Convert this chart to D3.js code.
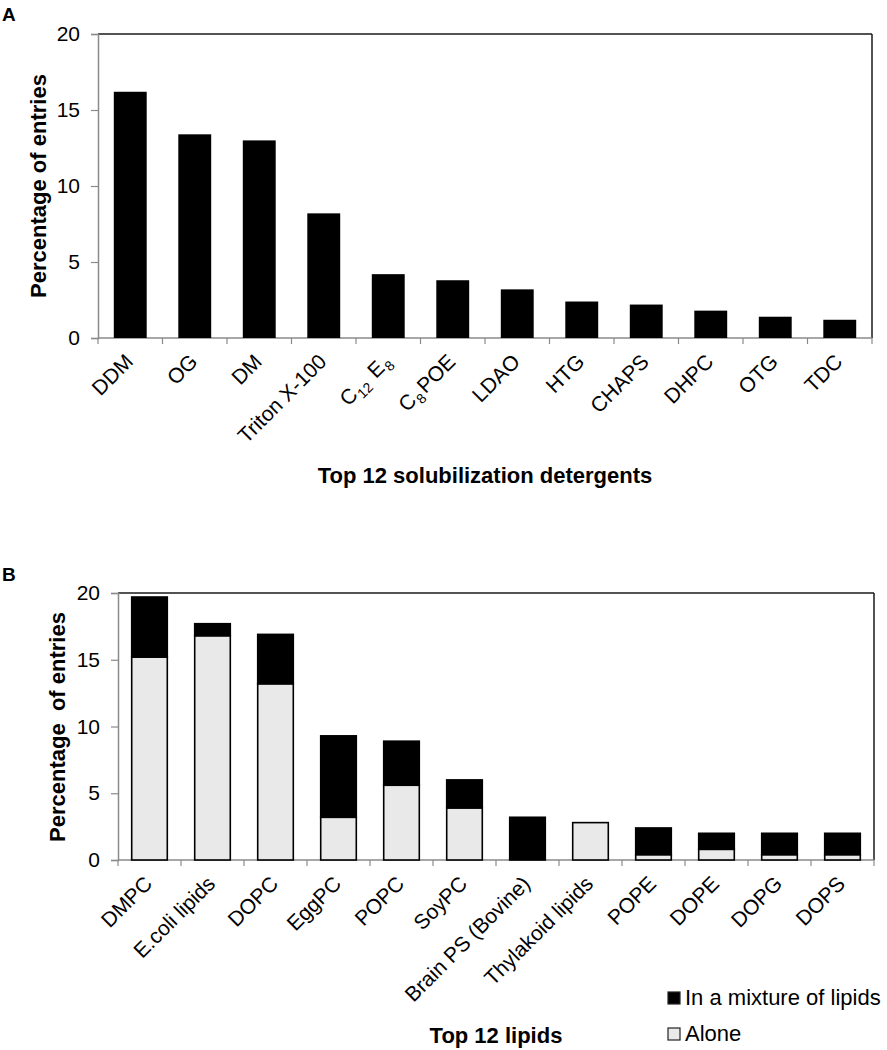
<!DOCTYPE html>
<html>
<head>
<meta charset="utf-8">
<script src="https://cdn.jsdelivr.net/npm/d3@7"></script>
<style>
  html, body { margin: 0; padding: 0; background: #fff; }
  svg { display: block; font-family: "Liberation Sans", Arial, sans-serif; }
</style>
</head>
<body>
<script>
// ---------- Data ----------
const detergents = ["DDM", "OG", "DM", "Triton X-100", "C_12 E_8", "C_8POE", "LDAO", "HTG", "CHAPS", "DHPC", "OTG", "TDC"];
const detergentValues = [16.2, 13.4, 13.0, 8.2, 4.2, 3.8, 3.2, 2.4, 2.2, 1.8, 1.4, 1.2];

const lipids = ["DMPC", "E.coli lipids", "DOPC", "EggPC", "POPC", "SoyPC", "Brain PS (Bovine)", "Thylakoid lipids", "POPE", "DOPE", "DOPG", "DOPS"];
const lipidAlone = [15.2, 16.8, 13.2, 3.2, 5.6, 3.9, 0, 2.8, 0.4, 0.8, 0.4, 0.4];
const lipidMixture = [4.5, 0.9, 3.7, 6.1, 3.3, 2.1, 3.2, 0, 2.0, 1.2, 1.6, 1.6];

const yTicks = [0, 5, 10, 15, 20];
const seriesNames = ["In a mixture of lipids", "Alone"];
const titleA = "Top 12 solubilization detergents";
const titleB = "Top 12 lipids";
const yTitleA = "Percentage of entries";
const yTitleB = "Percentage  of entries";

// ---------- Setup ----------
const W = 887, H = 1050;
const svg = d3.select("body").append("svg").attr("width", W).attr("height", H);
const AXIS = "#8a8a8a";
const ALONE = "#e9e9e9";

// renders "C_12 E_8" style labels with subscripts
function writeLabel(textSel, label) {
  const parts = label.split(/_(\d+)/);
  parts.forEach((p, i) => {
    if (p === "") return;
    const isSub = i % 2 === 1;
    const t = textSel.append("tspan").text(p);
    if (isSub) t.attr("font-size", 14).attr("dy", 5).attr("dx", 1);
    else if (i > 0) t.attr("dy", -5).attr("dx", 2);
  });
}

function drawFrame(g, x, y, left, right, top, bottom, n) {
  g.append("line").attr("x1", left).attr("x2", right).attr("y1", top).attr("y2", top)
    .attr("stroke", "#1a1a1a").attr("stroke-width", 1.5);
  g.append("line").attr("x1", right).attr("x2", right).attr("y1", top).attr("y2", bottom)
    .attr("stroke", "#1a1a1a").attr("stroke-width", 1.5);

  const yAxis = d3.axisLeft(y).tickValues(yTicks).tickSize(7).tickPadding(11).tickFormat(d3.format("d"));
  const ya = g.append("g").attr("transform", `translate(${left},0)`).call(yAxis);
  ya.select(".domain").attr("stroke", AXIS).attr("stroke-width", 1.5);
  ya.selectAll(".tick line").attr("stroke", AXIS).attr("stroke-width", 1.2);
  ya.selectAll(".tick text").attr("font-size", 21).attr("fill", "#000")
    .attr("font-family", "Liberation Sans, Arial, sans-serif");

  g.append("line").attr("x1", left).attr("x2", right).attr("y1", bottom).attr("y2", bottom)
    .attr("stroke", AXIS).attr("stroke-width", 1.5);
  const bounds = d3.range(n + 1).map(i => x.range()[0] + i * x.step());
  g.selectAll(".xb").data(bounds).enter().append("line")
    .attr("x1", d => d).attr("x2", d => d).attr("y1", bottom).attr("y2", bottom + 6)
    .attr("stroke", AXIS).attr("stroke-width", 1.2);
}

function drawXLabels(g, x, cats, bottom) {
  cats.forEach(c => {
    const cx = x(c) + x.bandwidth() / 2;
    const t = g.append("text")
      .attr("transform", `translate(${cx + 4},${bottom + 25}) rotate(-45)`)
      .attr("text-anchor", "end")
      .attr("font-size", 21)
      .attr("fill", "#000");
    writeLabel(t, c);
  });
}

// ---------- Panel A ----------
{
  const left = 98, right = 872, top = 34, bottom = 338;
  const g = svg.append("g");
  const x = d3.scaleBand().domain(detergents).range([left, right]).paddingInner(0.49).paddingOuter(0.245);
  const y = d3.scaleLinear().domain([0, 20]).range([bottom, top]);

  drawFrame(g, d3.scaleBand().domain(detergents).range([left, right]), y, left, right, top, bottom, detergents.length);

  g.selectAll(".barA").data(detergents).enter().append("rect")
    .attr("x", d => x(d))
    .attr("width", x.bandwidth())
    .attr("y", (d, i) => y(detergentValues[i]))
    .attr("height", (d, i) => y(0) - y(detergentValues[i]))
    .attr("fill", "#000");

  drawXLabels(g, x, detergents, bottom);

  g.append("text").attr("x", 2).attr("y", 21).attr("font-size", 19).attr("font-weight", "bold").text("A");

  g.append("text")
    .attr("transform", `translate(46,186) rotate(-90)`)
    .attr("text-anchor", "middle").attr("font-size", 22).attr("font-weight", "bold")
    .text(yTitleA);

  g.append("text").attr("x", (left + right) / 2).attr("y", 483)
    .attr("text-anchor", "middle").attr("font-size", 22).attr("font-weight", "bold")
    .text(titleA);
}

// ---------- Panel B ----------
{
  const left = 118, right = 874, top = 593, bottom = 860;
  const g = svg.append("g");
  const x = d3.scaleBand().domain(lipids).range([left, right]).paddingInner(0.435).paddingOuter(0.2175);
  const y = d3.scaleLinear().domain([0, 20]).range([bottom, top]);

  drawFrame(g, d3.scaleBand().domain(lipids).range([left, right]), y, left, right, top, bottom, lipids.length);

  const stackData = lipids.map((c, i) => ({ cat: c, alone: lipidAlone[i], mixture: lipidMixture[i] }));
  const stack = d3.stack().keys(["alone", "mixture"])(stackData);
  const fills = { alone: ALONE, mixture: "#000" };

  stack.forEach(layer => {
    g.selectAll(".seg-" + layer.key).data(layer.filter(d => d[1] - d[0] > 0)).enter().append("rect")
      .attr("x", d => x(d.data.cat))
      .attr("width", x.bandwidth())
      .attr("y", d => y(d[1]))
      .attr("height", d => y(d[0]) - y(d[1]))
      .attr("fill", fills[layer.key])
      .attr("stroke", "#000")
      .attr("stroke-width", 1.6);
  });

  drawXLabels(g, x, lipids, bottom);

  g.append("text").attr("x", 2).attr("y", 581).attr("font-size", 19).attr("font-weight", "bold").text("B");

  g.append("text")
    .attr("transform", `translate(65,727) rotate(-90)`)
    .attr("text-anchor", "middle").attr("font-size", 22).attr("font-weight", "bold")
    .style("white-space", "pre")
    .text(yTitleB);

  g.append("text").attr("x", (left + right) / 2).attr("y", 1043)
    .attr("text-anchor", "middle").attr("font-size", 22).attr("font-weight", "bold")
    .text(titleB);

  const legFills = ["#000", ALONE];
  const legY = [992, 1028];
  seriesNames.forEach((name, i) => {
    g.append("rect").attr("x", 668).attr("y", legY[i]).attr("width", 12).attr("height", 12)
      .attr("fill", legFills[i]).attr("stroke", "#222").attr("stroke-width", 1.2);
    g.append("text").attr("x", 685).attr("y", legY[i] + 13)
      .attr("font-size", 22).attr("fill", "#000").text(name);
  });
}
</script>
</body>
</html>
